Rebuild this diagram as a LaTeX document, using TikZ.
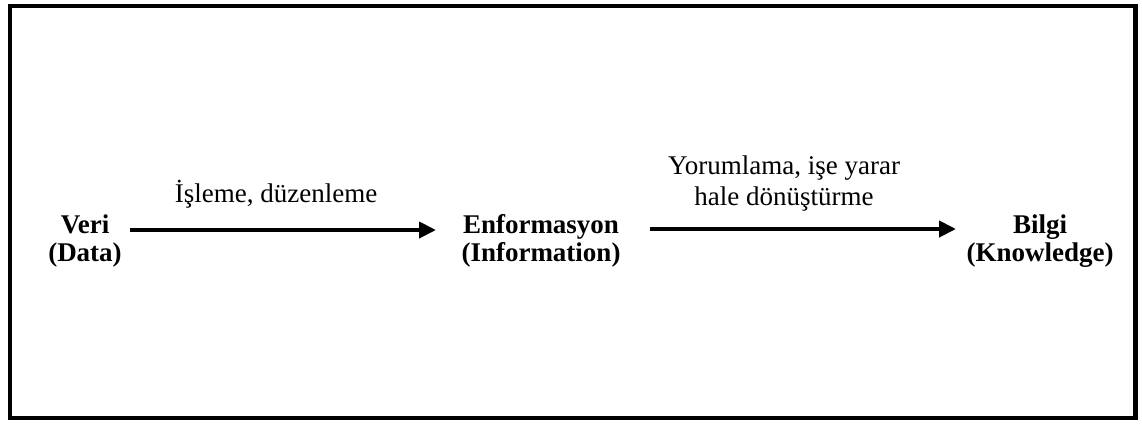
\documentclass[tikz,border=0pt]{standalone}
\usepackage{fontspec}
\setmainfont{Liberation Serif}
\usetikzlibrary{arrows.meta}
\begin{document}
\begin{tikzpicture}[x=1pt,y=-1pt,
  term/.style={font=\fontsize{27}{27.5}\selectfont\bfseries, align=center, inner sep=0pt},
  lbl/.style={font=\fontsize{27}{31}\selectfont, align=center, inner sep=0pt},
  flow/.style={line width=4pt, -{Triangle[length=17pt,width=16pt]}}]
  \useasboundingbox (0,0) rectangle (1142,424);
  % outer frame
  \draw[line width=4.5pt] (10,6) rectangle (1135.5,418);
  % terms
  \node[term] (veri) at (85,241) {Veri\\(Data)};
  \node[term] (enf) at (541,241) {Enformasyon\\(Information)};
  \node[term] (bilgi) at (1040,241) {Bilgi\\(Knowledge)};
  % connectors
  \coordinate (a1s) at (130,230);
  \coordinate (a1e) at (436,230);
  \coordinate (a2s) at (650,229);
  \coordinate (a2e) at (956,229);
  \draw[flow] (a1s) -- (a1e);
  \draw[flow] (a2s) -- (a2e);
  % labels
  \node[lbl, anchor=base] (l1) at (276,202) {İşleme, düzenleme};
  \node[lbl, anchor=base] (l2) at (784,205) {Yorumlama, işe yarar\\hale dönüştürme};
\end{tikzpicture}
\end{document}
